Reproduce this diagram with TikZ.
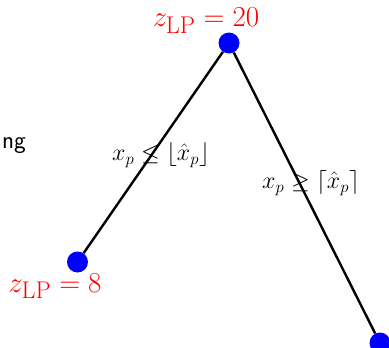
\documentclass[tikz,border=0pt]{standalone}
\usepackage{amssymb,amsmath}
\usepackage{tikz}

\begin{document}
\begin{tikzpicture}[x=1pt,y=-1pt,
    vertex/.style={circle,fill=blue,minimum size=21pt,inner sep=0pt},
    bound/.style={text=red,font=\Huge,scale=1.165,inner sep=0pt},
    branch/.style={font=\huge,scale=1.157,inner sep=0pt}]
\useasboundingbox (0,0) rectangle (389,348);
\clip (0,0) rectangle (389,348);

\node[vertex] (root) at (229,43) {};
\node[vertex] (left) at (77.5,262) {};
\node[vertex] (right) at (380,343) {};

\draw[line width=2.4pt] (root) -- (left);
\draw[line width=2.4pt] (root) -- (right);

\node[bound,anchor=base] (zroot) at (206,27) {$z_{\mathrm{LP}}=20$};
\node[bound,anchor=base] (zleft) at (55,292) {$z_{\mathrm{LP}}=8$};

\node[branch] (down) at (161,155) {$x_p\leq\lfloor\hat{x}_p\rfloor$};
\node[branch] (up) at (311,183) {$x_p\geq\lceil\hat{x}_p\rceil$};

\node[font=\Huge\sffamily,anchor=base east,inner sep=0pt] (txt) at (26,148) {ng};
\end{tikzpicture}
\end{document}
